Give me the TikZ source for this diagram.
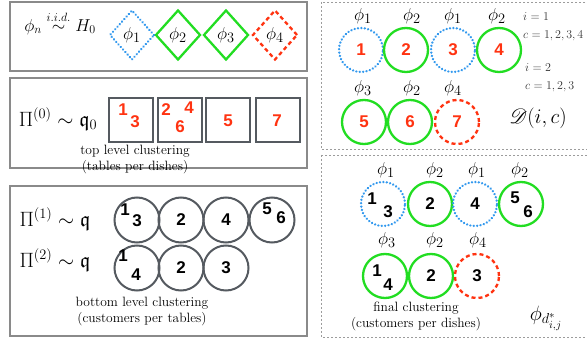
\documentclass[tikz,border=0pt]{standalone}
\usepackage{amsmath,amssymb}
\usepackage{mathrsfs}
\usepackage{fontspec}
\newfontfamily\numfont{Liberation Sans}
\usetikzlibrary{shapes.geometric}
\definecolor{cblue}{HTML}{3399EE}
\definecolor{cgreen}{HTML}{22DD22}
\definecolor{cred}{HTML}{FF3311}
\definecolor{cgray}{HTML}{555A60}
\definecolor{fgray}{HTML}{8A8A8A}
\definecolor{tgray}{HTML}{333333}
\tikzset{
  panel/.style={draw=fgray, line width=1.3pt},
  dpanel/.style={draw=fgray!85, line width=0.8pt, dash pattern=on 2pt off 2pt},
  dia/.style={diamond, shape aspect=1, minimum width=45pt, minimum height=50pt, inner sep=0pt, font=\fontsize{19}{19}\selectfont},
  bdot/.style={draw=cblue, line width=2.6pt, line cap=round, dash pattern=on 0.01pt off 3.4pt},
  gsol/.style={draw=cgreen, line width=2.3pt},
  rdash/.style={draw=cred, line width=2.3pt, dash pattern=on 4pt off 3pt},
  sq/.style={rectangle, draw=cgray, line width=2.4pt, minimum size=44pt, inner sep=0pt},
  tab/.style={circle, draw=cgray, line width=2pt, minimum size=45pt, inner sep=0pt},
  cl/.style={circle, minimum size=44pt, inner sep=0pt},
  num/.style={font=\numfont\bfseries\fontsize{17}{17}\selectfont, inner sep=0pt},
  rnum/.style={num, text=cred},
  phil/.style={font=\fontsize{19}{19}\selectfont, inner sep=0pt},
  bigm/.style={font=\fontsize{21}{21}\selectfont, inner sep=0pt},
  captxt/.style={align=center, font=\fontsize{13.5}{16}\selectfont, inner sep=0pt},
  small/.style={font=\fontsize{11.5}{11.5}\selectfont, text=tgray, inner sep=0pt, anchor=west},
}
\begin{document}
\begin{tikzpicture}[x=1pt,y=-1pt]
\useasboundingbox (0,0) rectangle (587,339);
% panels
\draw[panel] (10,2) rectangle (307,71);
\draw[panel] (10,78) rectangle (307,168);
\draw[panel] (10,186) rectangle (307,336);
\draw[dpanel] (321,2) rectangle (590,149);
\draw[dpanel] (321,155) rectangle (590,337);

% panel 1
\node[font=\fontsize{18}{18}\selectfont, inner sep=0pt] (h0) at (60,23) {$\phi_n \overset{i.i.d.}{\sim} H_0$};
\node[dia, bdot] (d1) at (132,35) {$\phi_1$};
\node[dia, gsol] (d2) at (178,35) {$\phi_2$};
\node[dia, gsol] (d3) at (226,35) {$\phi_3$};
\node[dia, rdash] (d4) at (275,35) {$\phi_4$};

% panel 2
\node[bigm] (p0) at (58,119) {$\Pi^{(0)}\sim\mathfrak{q}_0$};
\node[sq] (s1) at (131,120) {};
\node[sq] (s2) at (180,120) {};
\node[sq] (s3) at (228,120) {};
\node[sq] (s4) at (278,120) {};
\node[rnum] (n11) at (123,110) {1};
\node[rnum] (n13) at (135,122) {3};
\node[rnum] (n22) at (166,110) {2};
\node[rnum] (n26) at (180,127) {6};
\node[rnum] (n24) at (189,108) {4};
\node[rnum] (n35) at (228,121) {5};
\node[rnum] (n47) at (277,121) {7};
\node[captxt] (c0) at (135,160) {top level clustering\\(tables per dishes)};

% panel 3
\node[bigm] (p1) at (55,219) {$\Pi^{(1)}\sim\mathfrak{q}$};
\node[bigm] (p2) at (55,260) {$\Pi^{(2)}\sim\mathfrak{q}$};
\node[tab] (t11) at (137,220) {};
\node[tab, num] (t12) at (181,220) {2};
\node[tab, num] (t13) at (226,220) {4};
\node[tab] (t14) at (272,220) {};
\node[num] (a1) at (125,210) {1};
\node[num] (a3) at (137,221) {3};
\node[num] (a5) at (267,209) {5};
\node[num] (a6) at (281,218) {6};
\node[tab] (t21) at (137,268) {};
\node[tab, num] (t22) at (181,268) {2};
\node[tab, num] (t23) at (226,268) {3};
\node[num] (b1) at (123,256) {1};
\node[num] (b4) at (136,275) {4};
\node[captxt] (c1) at (142,312) {bottom level clustering\\(customers per tables)};

% right top
\node[phil] (f11) at (363,16) {$\phi_1$};
\node[phil] (f12) at (412,16) {$\phi_2$};
\node[phil] (f13) at (453,16) {$\phi_1$};
\node[phil] (f14) at (497,16) {$\phi_2$};
\node[cl, bdot, rnum] (r11) at (361,50) {1};
\node[cl, gsol, rnum] (r12) at (406,50) {2};
\node[cl, bdot, rnum] (r13) at (453,50) {3};
\node[cl, gsol, rnum] (r14) at (499,50) {4};
\node[phil] (f21) at (363,88) {$\phi_3$};
\node[phil] (f22) at (412,88) {$\phi_2$};
\node[phil] (f23) at (453,88) {$\phi_4$};
\node[cl, gsol, rnum] (r21) at (364,122) {5};
\node[cl, gsol, rnum] (r22) at (410,122) {6};
\node[cl, rdash, rnum] (r23) at (457,122) {7};
\node[small] (i1) at (523,17) {$i=1$};
\node[small] (k1) at (523,36) {$c=1,2,3,4$};
\node[small] (i2) at (525,68) {$i=2$};
\node[small] (k2) at (525,87) {$c=1,2,3$};
\node[bigm] (dd) at (538,118) {$\mathscr{D}(i,c)$};

% right bottom
\node[phil] (g11) at (386,170) {$\phi_1$};
\node[phil] (g12) at (435,170) {$\phi_2$};
\node[phil] (g13) at (477,170) {$\phi_1$};
\node[phil] (g14) at (520,170) {$\phi_2$};
\node[cl, bdot] (q11) at (383,204) {};
\node[cl, gsol, num] (q12) at (430,204) {2};
\node[cl, bdot, num] (q13) at (475,204) {4};
\node[cl, gsol] (q14) at (521,204) {};
\node[num] (e1) at (372,199) {1};
\node[num] (e3) at (388,212) {3};
\node[num] (e5) at (515,198) {5};
\node[num] (e6) at (528,212) {6};
\node[phil] (g21) at (387,240) {$\phi_3$};
\node[phil] (g22) at (435,240) {$\phi_2$};
\node[phil] (g23) at (478,240) {$\phi_4$};
\node[cl, gsol] (q21) at (385,276) {};
\node[cl, gsol, num] (q22) at (431,276) {2};
\node[cl, rdash, num] (q23) at (477,276) {3};
\node[num] (e21) at (377,271) {1};
\node[num] (e24) at (388,285) {4};
\node[captxt] (c2) at (416,316) {final clustering\\(customers per dishes)};
\node[font=\fontsize{22}{22}\selectfont, inner sep=0pt] (pd) at (546,318) {$\phi_{d^*_{i,j}}$};
\end{tikzpicture}
\end{document}
